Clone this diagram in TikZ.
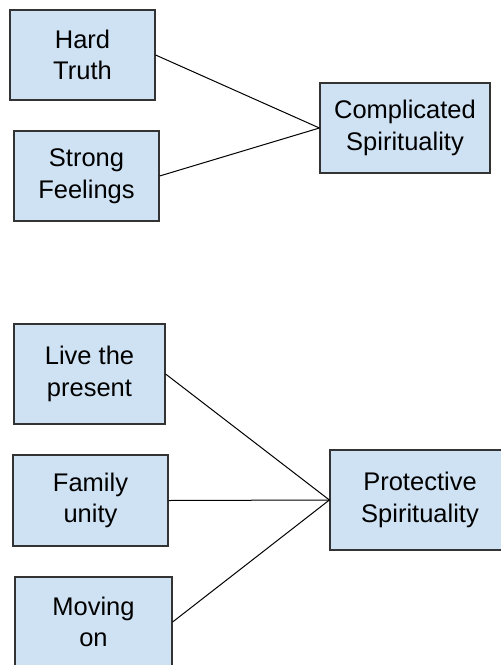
\documentclass[tikz,border=0pt]{standalone}
\usepackage{fontspec}
\setmainfont{Liberation Sans}
\usepackage{tikz}
\usetikzlibrary{positioning}
\definecolor{boxblue}{HTML}{CFE2F3}
\definecolor{boxline}{HTML}{333333}
\tikzset{
  themenode/.style = {align=center, inner sep=0pt, text centered,
    font=\fontsize{25.5}{31.5}\selectfont, rectangle, fill=boxblue,
    draw=boxline, line width=1.2pt},
  sub_n/.style = {themenode, minimum width=145pt, minimum height=90pt},% sous-theme
  main_n/.style = {themenode, minimum width=170pt, minimum height=90pt}% theme principal
}
\begin{document}
\begin{tikzpicture}[x=1pt,y=-1pt,line width=1pt]
\useasboundingbox (0,0) rectangle (501,665);
\clip (0,0) rectangle (501,665);
% complicated spirituality
\node [sub_n] (hard) at (82.5,55) {Hard\\Truth};
\node [sub_n] (strong) at (86.5,176) {Strong\\Feelings};
\node [main_n] (compl) at (405,128) {Complicated\\Spirituality};
% protective spirituality
\node [sub_n, minimum width=151pt, minimum height=100pt] (live) at (89.5,374) {Live the\\present};
\node [sub_n, minimum width=155pt, minimum height=91pt] (family) at (90.5,500.5) {Family\\unity};
\node [sub_n, minimum width=157pt] (moving) at (93.5,622) {Moving\\on};
\node [main_n, minimum width=180pt, minimum height=100pt] (prot) at (420,500) {Protective\\Spirituality};
\draw (hard.east) -- (compl.west);
\draw (strong.east) -- (compl.west);
\draw (live.east) -- (prot.west);
\draw (family.east) -- (prot.west);
\draw (moving.east) -- (prot.west);
\end{tikzpicture}
\end{document}
